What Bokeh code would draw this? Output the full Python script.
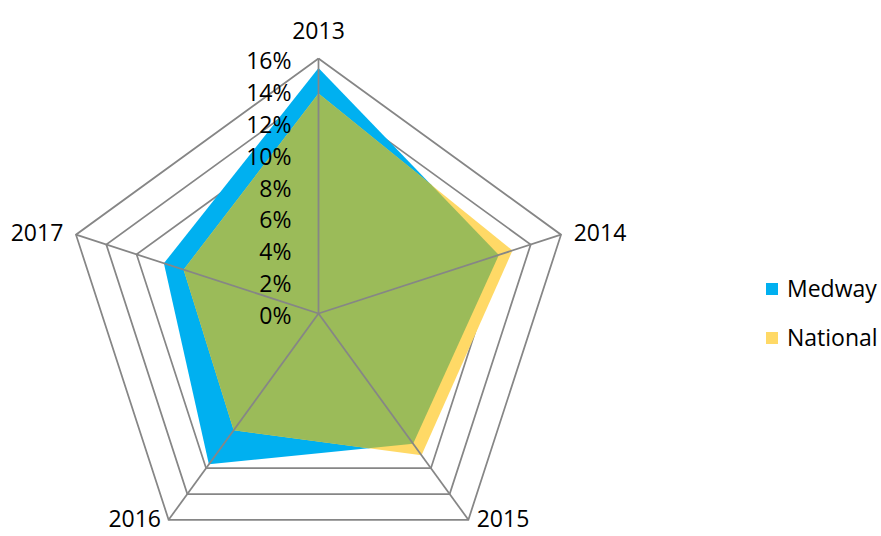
import numpy as np
from bokeh.plotting import figure
from bokeh.models import Range1d, Legend, LegendItem
from bokeh.core.properties import value
from bokeh.embed import file_html
from bokeh.resources import INLINE

# ---- data ----
categories = ["2013", "2014", "2015", "2016", "2017"]
medway = [15.4, 11.9, 10.1, 11.7, 10.2]
national = [13.8, 12.8, 11.0, 9.05, 8.9]
ticks = [0, 2, 4, 6, 8, 10, 12, 14, 16]
tick_labels = ["0%", "2%", "4%", "6%", "8%", "10%", "12%", "14%", "16%"]

# ---- layout ----
W, H = 881, 536
CX, CY = 318, 313           # centre of radar in canvas px
PX = 255 / 16               # px per percent
FONT = "Open Sans"
FS = "23px"
GRID = "#868686"
BLUE = "#00B0F0"
YELLOW = "#FFD966"
GREEN = "#9BBB59"

n = len(categories)
ang = np.pi / 2 - 2 * np.pi * np.arange(n) / n
ux, uy = np.cos(ang), np.sin(ang)
rmax = ticks[-1]

p = figure(width=W, height=H, output_backend="svg", toolbar_location=None,
           x_range=Range1d(-CX / PX, (W - CX) / PX),
           y_range=Range1d(-(H - CY) / PX, CY / PX),
           min_border=0, outline_line_color=None, background_fill_color="white")
p.axis.visible = False
p.grid.visible = False

# rings
ring_xs = [list(np.append(t * ux, t * ux[0])) for t in ticks[1:]]
ring_ys = [list(np.append(t * uy, t * uy[0])) for t in ticks[1:]]
p.multi_line(ring_xs, ring_ys, line_color=GRID, line_width=1.75, line_join="miter")

# series polygons
m = np.array(medway)
nn = np.array(national)
r_blue = p.patch(list(m * ux), list(m * uy), fill_color=BLUE, line_color=None)
r_yel = p.patch(list(nn * ux), list(nn * uy), fill_color=YELLOW, line_color=None)

# intersection polygon (overlap shown in green)
ix, iy = [], []
for i in range(n):
    j = (i + 1) % n
    r = min(m[i], nn[i])
    ix.append(r * ux[i]); iy.append(r * uy[i])
    d1, d2 = m[i] - nn[i], m[j] - nn[j]
    if d1 * d2 < 0:
        P1 = np.array([m[i] * ux[i], m[i] * uy[i]]); P2 = np.array([m[j] * ux[j], m[j] * uy[j]])
        Q1 = np.array([nn[i] * ux[i], nn[i] * uy[i]]); Q2 = np.array([nn[j] * ux[j], nn[j] * uy[j]])
        A = np.column_stack([P2 - P1, -(Q2 - Q1)])
        t, s = np.linalg.solve(A, Q1 - P1)
        X = P1 + t * (P2 - P1)
        ix.append(X[0]); iy.append(X[1])
p.patch(ix, iy, fill_color=GREEN, line_color=None)

# spokes
p.multi_line([[0, rmax * ux[i]] for i in range(n)], [[0, rmax * uy[i]] for i in range(n)],
             line_color=GRID, line_width=1.75)

# tick labels along the first axis
p.text(x=[0] * len(ticks), y=ticks, text=tick_labels, x_offset=-27, y_offset=1.5,
       text_align="right", text_baseline="middle", text_font=value(FONT),
       text_font_size=FS, text_color="black")

# category labels
offs = [(0, -28.5, "center", "middle"), (12.7, -2, "left", "middle"),
        (8.3, 7, "left", "bottom"), (-7.6, 7, "right", "bottom"),
        (-12.7, -2, "right", "middle")]
for i, c in enumerate(categories):
    p.text(x=[rmax * ux[i]], y=[rmax * uy[i]], text=[c], x_offset=offs[i][0], y_offset=offs[i][1],
           text_align=offs[i][2], text_baseline=offs[i][3], text_font=value(FONT),
           text_font_size=FS, text_color="black")

legend = Legend(items=[LegendItem(label="Medway", renderers=[r_blue]),
                       LegendItem(label="National", renderers=[r_yel])],
                location=(764, 183), orientation="vertical",
                glyph_width=15, glyph_height=15, label_height=30, spacing=17,
                label_standoff=8, padding=0, margin=0,
                label_text_font=FONT, label_text_font_size=FS, label_text_color="black",
                border_line_color=None, background_fill_alpha=0)
p.add_layout(legend, "center")

open("out.html", "w").write(file_html(p, INLINE))
